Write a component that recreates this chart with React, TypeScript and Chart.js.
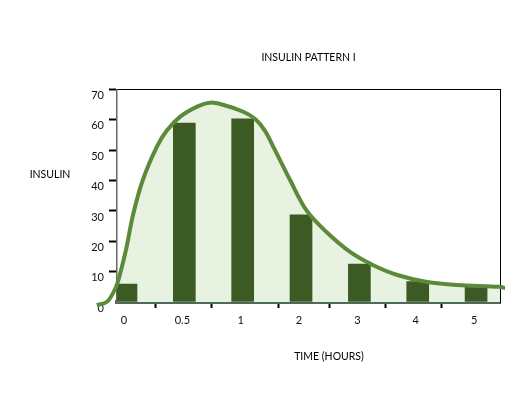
import React, { useEffect, useRef } from 'react';
import { Chart, registerables } from 'chart.js';

Chart.register(...registerables);

// ---- data ----
const categories = ['0', '0.5', '1', '2', '3', '4', '5'];
const barValues = [5.9, 59.0, 60.4, 28.7, 12.5, 6.7, 4.8];
// smooth insulin curve: position along the category axis (0 = first bar) and level
const curvePos = [-0.5, -0.33, -0.22, -0.14, 0, 0.12, 0.29, 0.53, 0.7, 0.93, 1.22, 1.44, 1.66, 2.01, 2.21, 2.38, 2.55, 2.81, 3.1, 3.45, 3.84, 4.23, 4.65, 5.16, 5.68, 6.41, 6.5];
const curveValues = [-1.0, 0, 3.0, 6.6, 17.2, 28.7, 40.3, 51.2, 56.5, 61.1, 64.4, 65.7, 65.0, 62.7, 60.4, 56.5, 50.2, 40.3, 30.0, 22.8, 16.5, 12.2, 8.9, 6.6, 5.6, 5.0, 4.6];
// hand-drawn tick marks between the categories
const xMarkPositions = [0.5, 1.47, 2.61, 3.48, 4.44, 5.41];
const yTickValues = [0, 10, 20, 30, 40, 50, 60, 70];
const xRange = [-0.154, 6.41];

const titleText = 'INSULIN PATTERN I';
const yCaption = 'INSULIN';
const xCaption = 'TIME (HOURS)';

const FONT = 'Lato, "Open Sans", sans-serif';

export default function App() {
  const ref = useRef<HTMLCanvasElement | null>(null);

  useEffect(() => {
    if (!ref.current) return;
    const markSet = new Set(xMarkPositions);

    const captions = {
      id: 'captions',
      afterDraw(chart: any) {
        const { ctx, chartArea } = chart;
        ctx.save();
        ctx.fillStyle = '#000';
        ctx.font = `10.5px ${FONT}`;
        ctx.textAlign = 'center';
        ctx.textBaseline = 'middle';
        ctx.fillText(yCaption, chartArea.left - 67, chartArea.top + 85);
        ctx.fillText(xCaption, chartArea.left + 212, chartArea.bottom + 55);
        ctx.restore();
      },
    };

    const curveData = curvePos.map((x, i) => ({ x, y: curveValues[i] }));

    const chart = new Chart(ref.current, {
      type: 'bar',
      data: {
        datasets: [
          {
            type: 'line',
            label: 'curve-fill',
            data: curveData,
            borderWidth: 0,
            borderColor: 'rgba(0,0,0,0)',
            backgroundColor: '#e8f2e0',
            fill: 'origin',
            pointRadius: 0,
            tension: 0.35,
            clip: { left: 0, top: 0, right: 5, bottom: 0 },
            order: 3,
          } as any,
          {
            type: 'bar',
            label: 'Insulin',
            data: barValues.map((y, i) => ({ x: i, y })),
            backgroundColor: '#3b5a24',
            borderWidth: 0,
            barThickness: 22,
            order: 2,
          } as any,
          {
            type: 'line',
            label: 'curve',
            data: curveData,
            borderWidth: 4,
            borderColor: '#5b8a3a',
            fill: false,
            pointRadius: 0,
            tension: 0.35,
            clip: false,
            order: 1,
          } as any,
        ],
      },
      options: {
        animation: false,
        responsive: false,
        layout: { padding: { left: 0, right: 5, top: 0, bottom: 0 } },
        plugins: {
          legend: { display: false },
          tooltip: { enabled: false },
          title: {
            display: true,
            text: titleText,
            fullSize: false,
            color: '#000',
            font: { family: FONT, size: 10.5, weight: 'normal' },
            padding: { top: 51, bottom: 26 },
          },
        },
        scales: {
          x: {
            type: 'linear',
            position: 'bottom',
            offset: false,
            bounds: 'data',
            z: 1,
            afterDataLimits: (scale: any) => {
              scale.min = xRange[0];
              scale.max = xRange[1];
            },
            afterBuildTicks: (scale: any) => {
              const vals = [...categories.map((_, i) => i), ...xMarkPositions].sort((a, b) => a - b);
              scale.ticks = vals.map((v) => ({ value: v }));
            },
            afterFit: (scale: any) => {
              scale.height = 91;
            },
            ticks: {
              autoSkip: false,
              maxRotation: 0,
              padding: 6,
              color: '#111',
              font: { family: FONT, size: 11 },
              labelOffset: -2,
              callback: (v: any) => (Number.isInteger(v) && !markSet.has(v) ? categories[v] : ''),
            },
            grid: {
              display: true,
              offset: false,
              drawOnChartArea: false,
              drawTicks: true,
              tickLength: 6,
              tickWidth: 2,
              tickColor: (ctx: any) => (ctx.tick && markSet.has(ctx.tick.value) ? '#000' : 'rgba(0,0,0,0)'),
            },
            border: { display: true, color: '#4d6a5b', width: 4 },
          },
          xTop: {
            type: 'linear',
            position: 'top',
            min: 0,
            max: 1,
            ticks: { display: false },
            grid: { display: false, drawTicks: false },
            border: { display: true, color: '#000', width: 1 },
            afterFit: (scale: any) => {
              scale.height = 0;
            },
          },
          y: {
            type: 'linear',
            position: 'left',
            min: 0,
            max: 70,
            afterBuildTicks: (scale: any) => {
              scale.ticks = yTickValues.map((v) => ({ value: v }));
            },
            afterFit: (scale: any) => {
              scale.width = 117;
            },
            ticks: {
              padding: 5,
              color: '#111',
              labelOffset: 6,
              font: { family: FONT, size: 11 },
            },
            grid: {
              display: true,
              drawOnChartArea: false,
              drawTicks: true,
              tickLength: 8,
              tickWidth: 2,
              tickColor: (ctx: any) => (ctx.tick && ctx.tick.value === 0 ? 'rgba(0,0,0,0)' : '#000'),
            },
            border: { display: true, color: '#666', width: 1.5 },
          },
          yRight: {
            type: 'linear',
            position: 'right',
            min: 0,
            max: 1,
            ticks: { display: false },
            grid: { display: false, drawTicks: false },
            border: { display: true, color: '#000', width: 1 },
            afterFit: (scale: any) => {
              scale.width = 0;
            },
          },
        },
      } as any,
      plugins: [captions],
    });

    return () => chart.destroy();
  }, []);

  return (
    <div style={{ position: 'absolute', left: 0, top: 0, width: 505, height: 393, background: '#fff' }}>
      <canvas ref={ref} width={505} height={393} />
    </div>
  );
}
